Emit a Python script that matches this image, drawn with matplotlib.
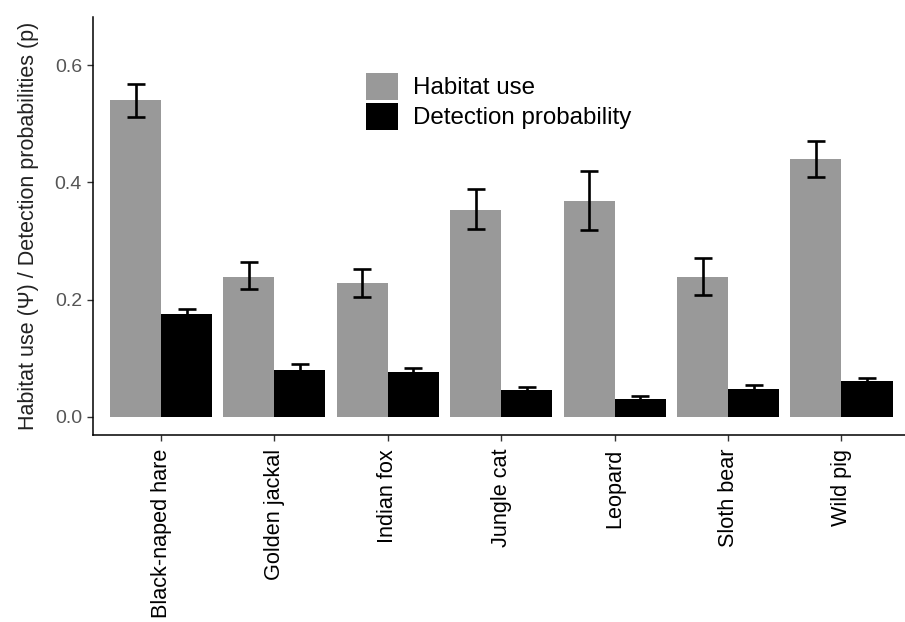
import numpy as np
import matplotlib
matplotlib.use("Agg")
import matplotlib.pyplot as plt

plt.rcParams['font.family'] = ['Liberation Sans', 'DejaVu Sans']

# values
species = ["Black-naped hare", "Golden jackal", "Indian fox", "Jungle cat",
           "Leopard", "Sloth bear", "Wild pig"]
habitat_use = [0.540, 0.239, 0.228, 0.352, 0.368, 0.239, 0.439]
habitat_lo = [0.511, 0.218, 0.205, 0.320, 0.318, 0.207, 0.409]
habitat_hi = [0.567, 0.264, 0.252, 0.388, 0.419, 0.271, 0.471]
detection = [0.175, 0.080, 0.077, 0.046, 0.030, 0.048, 0.061]
detection_lo = [0.166, 0.070, 0.070, 0.041, 0.025, 0.041, 0.055]
detection_hi = [0.184, 0.090, 0.084, 0.051, 0.035, 0.055, 0.067]

x = np.arange(len(species))
w = 0.45
hab = np.array(habitat_use)
det = np.array(detection)

fig = plt.figure(figsize=(9.05, 6.22), dpi=100)
ax = fig.add_axes([93 / 905, 1 - 435 / 622, 812 / 905, 418 / 622])

ax.bar(x - w / 2, hab, width=w, color="#999999", label="Habitat use")
ax.bar(x + w / 2, det, width=w, color="black", label="Detection probability")

# error bars
ax.errorbar(x - w / 2, hab, yerr=[hab - np.array(habitat_lo), np.array(habitat_hi) - hab],
            fmt="none", ecolor="black", elinewidth=1.9, capsize=6.4, capthick=1.9)
ax.errorbar(x + w / 2, det, yerr=[det - np.array(detection_lo), np.array(detection_hi) - det],
            fmt="none", ecolor="black", elinewidth=1.9, capsize=6.4, capthick=1.9)

ax.set_xlim(-0.6, 6.56)
ax.set_ylim(-0.031, 0.682)
ax.set_yticks([0.0, 0.2, 0.4, 0.6])
ax.set_yticklabels(["0.0", "0.2", "0.4", "0.6"])
ax.set_xticks(x)
ax.set_xticklabels(species, rotation=90, fontsize=15.6, color="black")

for s in ["top", "right"]:
    ax.spines[s].set_visible(False)
for s in ["left", "bottom"]:
    ax.spines[s].set_linewidth(1.1)
    ax.spines[s].set_color("black")

ax.tick_params(axis="y", labelsize=14, labelcolor="#555555", length=4, width=1.0,
               color="#333333", pad=4)
ax.tick_params(axis="x", length=4, width=1.0, color="#333333", pad=6)

ax.set_ylabel("Habitat use (\u03a8) / Detection probabilities (p)", fontsize=15.5, color="#222222")
ax.yaxis.set_label_coords(-0.066, 0.5)

leg = ax.legend(loc="upper left", bbox_to_anchor=(366 / 905, 1 - 73 / 622),
                bbox_transform=fig.transFigure, frameon=False, fontsize=17.4,
                handlelength=1.33, handleheight=1.33, labelspacing=0.13,
                handletextpad=0.6, borderpad=0, borderaxespad=0)

fig.savefig("out.png", dpi=100)
